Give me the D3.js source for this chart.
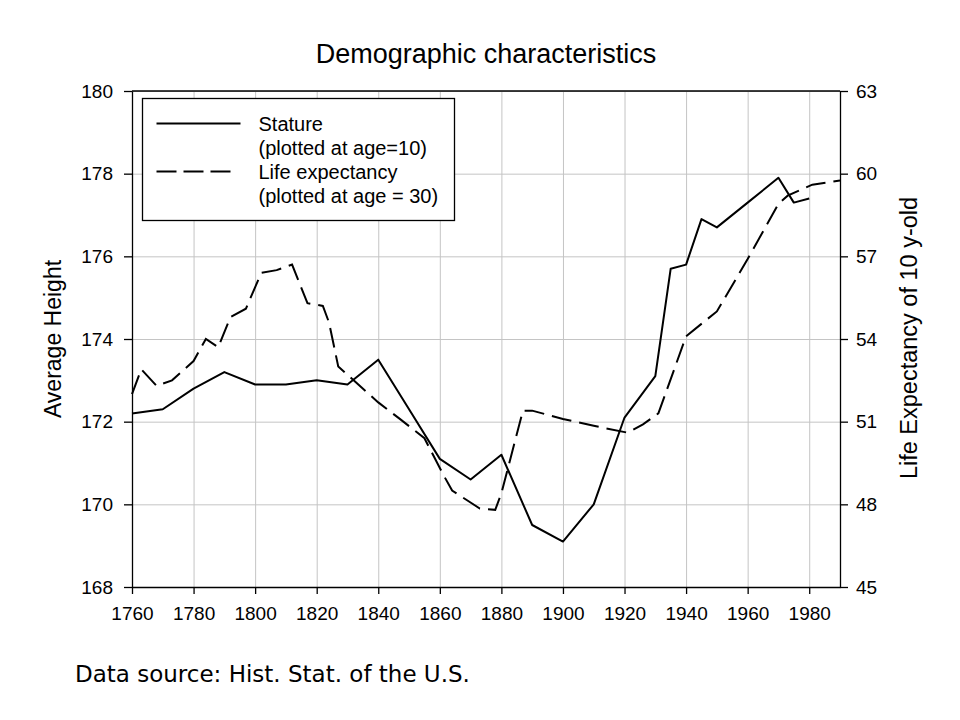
<!DOCTYPE html>
<html>
<head>
  <title>Demographic characteristics</title>
  <script src="https://d3js.org/d3.v7.min.js"></script>
  <style>
    body { margin: 0; background: #fff; }
    svg { font-family: "Liberation Sans", Arial, sans-serif; }
    .grid line { stroke: #c4c4c4; stroke-width: 1; }
    .grid path { display: none; }
    .axis text { font-size: 19px; fill: #000; }
    .axis path, .axis line { stroke: #000; stroke-width: 1.3; }
  </style>
</head>
<body>
  <svg id="chart"></svg>

  <script>
    // stature (average height, cm) by year
    var statureYears = [1760, 1770, 1780, 1790, 1800, 1810, 1820, 1830, 1840, 1850, 1860, 1870, 1880, 1890, 1900, 1910, 1920, 1930, 1935, 1940, 1945, 1950, 1960, 1970, 1975, 1980];
    var statureValues = [172.2, 172.3, 172.8, 173.2, 172.9, 172.9, 173.0, 172.9, 173.5, 172.3, 171.1, 170.6, 171.2, 169.5, 169.1, 170.0, 172.1, 173.1, 175.7, 175.8, 176.9, 176.7, 177.3, 177.9, 177.3, 177.4];

    // life expectancy of 10 year olds
    var lifeYears = [1760, 1763, 1768, 1773, 1780, 1784, 1788, 1792, 1797, 1802, 1807, 1812, 1817, 1822, 1824, 1827, 1831, 1840, 1847, 1855, 1861, 1864, 1873, 1878, 1880, 1887, 1890, 1900, 1910, 1921, 1926, 1931, 1940, 1950, 1960, 1970, 1973, 1981, 1990];
    var lifeValues = [52.0, 52.9, 52.3, 52.5, 53.2, 54.0, 53.7, 54.8, 55.1, 56.4, 56.5, 56.7, 55.3, 55.2, 54.6, 53.0, 52.6, 51.7, 51.1, 50.4, 49.1, 48.5, 47.85, 47.8, 48.4, 51.4, 51.4, 51.1, 50.85, 50.6, 50.9, 51.3, 54.1, 55.0, 56.9, 58.9, 59.2, 59.6, 59.75];

    var xTicks = [1760, 1780, 1800, 1820, 1840, 1860, 1880, 1900, 1920, 1940, 1960, 1980];
    var leftTicks = [168, 170, 172, 174, 176, 178, 180];
    var rightTicks = [45, 48, 51, 54, 57, 60, 63];

    var legendLabels = [
      ['Stature', '(plotted at age=10)'],
      ['Life expectancy', '(plotted at age = 30)']
    ];

    var svgWidth = 960, svgHeight = 720;
    var margin = { top: 91, right: 120, bottom: 133, left: 132 };
    var width = svgWidth - margin.left - margin.right;
    var height = svgHeight - margin.top - margin.bottom;

    var svg = d3.select('#chart')
      .attr('width', svgWidth)
      .attr('height', svgHeight);

    var g = svg.append('g')
      .attr('transform', 'translate(' + margin.left + ',' + margin.top + ')');

    var x = d3.scaleLinear().domain([1760, 1990]).range([0, width]);
    var yL = d3.scaleLinear().domain([168, 180]).range([height, 0]);
    var yR = d3.scaleLinear().domain([45, 63]).range([height, 0]);

    // grid
    g.append('g').attr('class', 'grid')
      .attr('transform', 'translate(0,' + height + ')')
      .call(d3.axisBottom(x).tickValues(xTicks).tickSize(-height).tickFormat(''));
    g.append('g').attr('class', 'grid')
      .call(d3.axisLeft(yL).tickValues(leftTicks).tickSize(-width).tickFormat(''));

    // top frame line
    g.append('line')
      .attr('x1', 0).attr('x2', width).attr('y1', 0).attr('y2', 0)
      .attr('stroke', '#000').attr('stroke-width', 1.3);

    // axes
    g.append('g').attr('class', 'axis')
      .attr('transform', 'translate(0,' + height + ')')
      .call(d3.axisBottom(x).tickValues(xTicks).tickSize(7).tickSizeOuter(0).tickPadding(13).tickFormat(d3.format('d')));
    g.append('g').attr('class', 'axis')
      .call(d3.axisLeft(yL).tickValues(leftTicks).tickSize(8).tickSizeOuter(0).tickPadding(11));
    g.append('g').attr('class', 'axis')
      .attr('transform', 'translate(' + width + ',0)')
      .call(d3.axisRight(yR).tickValues(rightTicks).tickSize(8).tickSizeOuter(0).tickPadding(8));

    // lines
    var statureData = statureYears.map(function(d, i) { return [d, statureValues[i]]; });
    var lifeData = lifeYears.map(function(d, i) { return [d, lifeValues[i]]; });

    g.append('path')
      .datum(statureData)
      .attr('fill', 'none')
      .attr('stroke', '#000')
      .attr('stroke-width', 2)
      .attr('stroke-linejoin', 'round')
      .attr('d', d3.line().x(function(d) { return x(d[0]); }).y(function(d) { return yL(d[1]); }));

    g.append('path')
      .datum(lifeData)
      .attr('fill', 'none')
      .attr('stroke', '#000')
      .attr('stroke-width', 2)
      .attr('stroke-dasharray', '20,8')
      .attr('d', d3.line().x(function(d) { return x(d[0]); }).y(function(d) { return yR(d[1]); }));

    // legend
    var lg = svg.append('g').attr('transform', 'translate(142.5,98.5)');
    lg.append('rect')
      .attr('width', 312).attr('height', 122)
      .attr('fill', '#fff').attr('stroke', '#000').attr('stroke-width', 1.3);
    legendLabels.forEach(function(lab, i) {
      var yy = 25 + i * 48;
      lg.append('line')
        .attr('x1', 14).attr('x2', i === 1 ? 88 : 98).attr('y1', yy).attr('y2', yy)
        .attr('stroke', '#000').attr('stroke-width', 2)
        .attr('stroke-dasharray', i === 1 ? '20,7' : null);
      lab.forEach(function(t, j) {
        lg.append('text')
          .attr('x', 116).attr('y', yy + 7 + j * 24)
          .attr('font-size', '20px')
          .text(t);
      });
    });

    // titles
    svg.append('text')
      .attr('x', 486).attr('y', 63)
      .attr('text-anchor', 'middle')
      .attr('font-size', '27px')
      .text('Demographic characteristics');

    svg.append('text')
      .attr('transform', 'translate(61,339) rotate(-90)')
      .attr('text-anchor', 'middle')
      .attr('font-size', '23px')
      .text('Average Height');

    svg.append('text')
      .attr('transform', 'translate(917,338) rotate(-90)')
      .attr('text-anchor', 'middle')
      .attr('font-size', '23.5px')
      .text('Life Expectancy of 10 y-old');

    svg.append('text')
      .attr('x', 75).attr('y', 682)
      .attr('font-family', '"Comic Sans MS", "DejaVu Sans", sans-serif')
      .attr('font-size', '23px')
      .text('Data source: Hist. Stat. of the U.S.');
  </script>
</body>
</html>
